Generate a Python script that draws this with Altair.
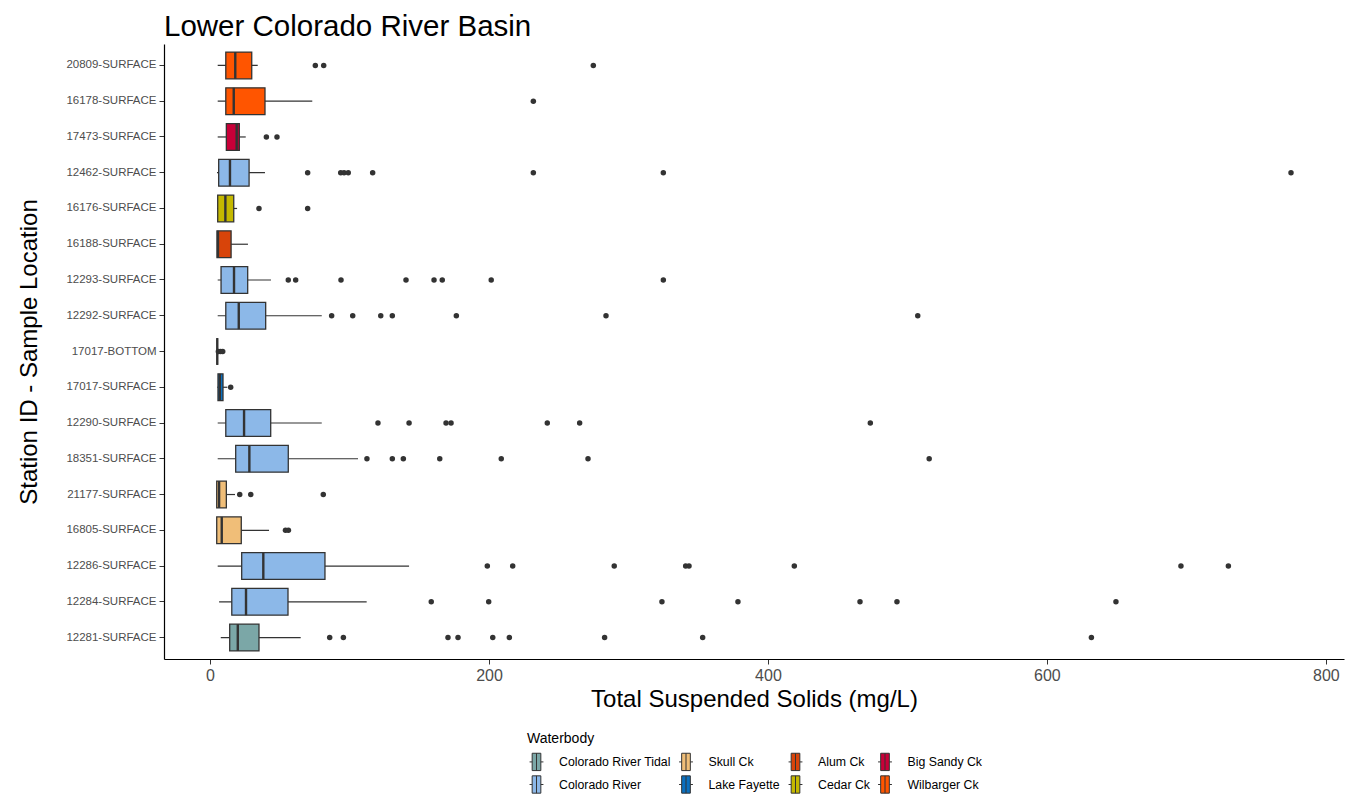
import altair as alt
import pandas as pd

FONT = "Liberation Sans"

stations = ["20809-SURFACE", "16178-SURFACE", "17473-SURFACE", "12462-SURFACE",
            "16176-SURFACE", "16188-SURFACE", "12293-SURFACE", "12292-SURFACE",
            "17017-BOTTOM", "17017-SURFACE", "12290-SURFACE", "18351-SURFACE",
            "21177-SURFACE", "16805-SURFACE", "12286-SURFACE", "12284-SURFACE",
            "12281-SURFACE"]
waterbody = ["Wilbarger Ck", "Wilbarger Ck", "Big Sandy Ck", "Colorado River",
             "Cedar Ck", "Alum Ck", "Colorado River", "Colorado River",
             "Lake Fayette", "Lake Fayette", "Colorado River", "Colorado River",
             "Skull Ck", "Skull Ck", "Colorado River", "Colorado River",
             "Colorado River Tidal"]
lower_whisker = [5.5, 5.5, 5.5, 5.0, 5.0, 5.0, 5.5, 5.5, 5.2, 5.2, 5.5, 5.5, 4.8, 4.8, 5.5, 6.5, 7.7]
q1 = [11.3, 11.3, 11.7, 6.2, 5.5, 5.0, 7.9, 11.3, 5.2, 5.7, 11.3, 18.4, 4.8, 4.8, 22.7, 15.6, 14.1]
median = [18.1, 17.0, 19.1, 14.3, 11.0, 5.7, 17.2, 20.6, 5.2, 7.0, 24.4, 28.2, 6.5, 8.4, 38.2, 25.8, 19.9]
q3 = [29.9, 39.4, 21.0, 28.0, 17.0, 15.1, 27.0, 39.9, 5.2, 9.3, 43.5, 56.1, 11.7, 22.4, 82.4, 55.9, 35.1]
upper_whisker = [34.2, 73.3, 25.6, 39.4, 19.4, 27.2, 43.7, 80.1, 5.2, 12.4, 80.1, 106.1, 17.9, 42.3, 142.7, 112.3, 65.0]
outliers = [
    [75.5, 81.5, 274.8],
    [231.8],
    [40.4, 48.0],
    [70.0, 93.7, 96.1, 99.1, 116.6, 231.8, 325.0, 775.0],
    [35.1, 70.0],
    [],
    [56.1, 61.4, 93.9, 140.5, 160.6, 166.5, 201.6, 325.0],
    [87.2, 102.3, 122.4, 130.7, 176.6, 283.9, 507.4],
    [6.0, 7.5, 9.1],
    [14.8],
    [120.4, 142.7, 169.2, 172.8, 241.8, 265.0, 473.4],
    [112.5, 130.7, 138.6, 164.7, 208.8, 271.0, 515.6],
    [21.3, 29.2, 81.2],
    [54.1, 56.2],
    [198.8, 217.0, 289.8, 341.0, 343.4, 418.9, 696.1, 730.1],
    [158.6, 199.8, 324.0, 378.5, 466.0, 492.5, 649.5],
    [85.8, 95.6, 170.6, 177.8, 202.7, 214.6, 282.9, 353.2, 631.9],
]

legend_order = ["Colorado River Tidal", "Colorado River", "Skull Ck", "Lake Fayette",
                "Alum Ck", "Cedar Ck", "Big Sandy Ck", "Wilbarger Ck"]
legend_colors = ["#7BA7A7", "#8CB8E8", "#F0BE78", "#0A70C0",
                 "#D8440A", "#C4B800", "#C80038", "#FF5500"]
x_ticks = [0, 200, 400, 600, 800]

box_df = pd.DataFrame({
    "station": stations, "waterbody": waterbody, "lw": lower_whisker,
    "q1": q1, "med": median, "q3": q3, "uw": upper_whisker,
})
out_df = pd.DataFrame([
    {"station": s, "value": v}
    for s, vals in zip(stations, outliers) for v in vals
])

yscale = alt.Scale(domain=stations, paddingInner=0.25, paddingOuter=0.225)
yenc = alt.Y("station:N", sort=stations, scale=yscale,
             axis=alt.Axis(title="Station ID - Sample Location", labelFontSize=11.5,
                           labelColor="#4D4D4D", labelFont=FONT, tickColor="#333333",
                           tickSize=5, labelPadding=3, domainColor="#000000",
                           domainWidth=1.2, titleFontSize=24, titleFont=FONT,
                           titleFontWeight="normal", titleColor="#000000",
                           titlePadding=24, grid=False))
xscale = alt.Scale(domain=[-33, 813], nice=False, zero=False)
xaxis = alt.Axis(title="Total Suspended Solids (mg/L)", values=x_ticks, labelFontSize=16,
                 labelColor="#4D4D4D", labelFont=FONT, tickColor="#333333", tickSize=5,
                 labelPadding=3, domainColor="#000000", domainWidth=1.2,
                 titleFontSize=24, titleFont=FONT, titleFontWeight="normal",
                 titleColor="#000000", titlePadding=4, grid=False)

glyph = "M-0.8,0H-0.5M0.5,0H0.8M-0.5,-1H0.5V1H-0.5ZM0,-1V1"

whiskers = alt.Chart(box_df).mark_rule(color="#333333", strokeWidth=1.2).encode(
    x=alt.X("lw:Q", scale=xscale, axis=xaxis), x2="uw:Q", y=yenc)

boxes = alt.Chart(box_df).mark_bar(stroke="#333333", strokeWidth=1.3, opacity=1).encode(
    x=alt.X("q1:Q", scale=xscale, axis=xaxis), x2="q3:Q", y=yenc,
    fill=alt.Fill("waterbody:N",
                  scale=alt.Scale(domain=legend_order, range=legend_colors),
                  legend=alt.Legend(title="Waterbody", orient="none", legendX=363,
                                    legendY=688, columns=4, symbolType=glyph,
                                    symbolSize=300, symbolStrokeColor="#333333",
                                    symbolStrokeWidth=1, symbolOpacity=1,
                                    labelFont=FONT, labelFontSize=12.3,
                                    labelColor="#000000", labelOffset=13,
                                    titleFont=FONT, titleFontSize=14,
                                    titleFontWeight="normal", titleColor="#000000",
                                    titlePadding=6, columnPadding=5.5, rowPadding=0)))

medians = alt.Chart(box_df).mark_tick(color="#333333", thickness=2.4, size=26.8, opacity=1).encode(
    x=alt.X("med:Q", scale=xscale, axis=xaxis), y=yenc)

points = alt.Chart(out_df).mark_circle(size=30, color="#333333", opacity=1).encode(
    x=alt.X("value:Q", scale=xscale, axis=xaxis), y=yenc)

chart = alt.layer(whiskers, boxes, medians, points).properties(
    width=1180, height=615,
    title=alt.Title("Lower Colorado River Basin", anchor="start", frame="group",
                    fontSize=29.5, font=FONT, fontWeight="normal", color="#000000", offset=2),
    padding={"left": 9, "top": 3, "right": 5, "bottom": 0},
).configure(background="white").configure_view(stroke=None)

chart.save("out.html", embed_options={"renderer": "svg", "actions": False})
